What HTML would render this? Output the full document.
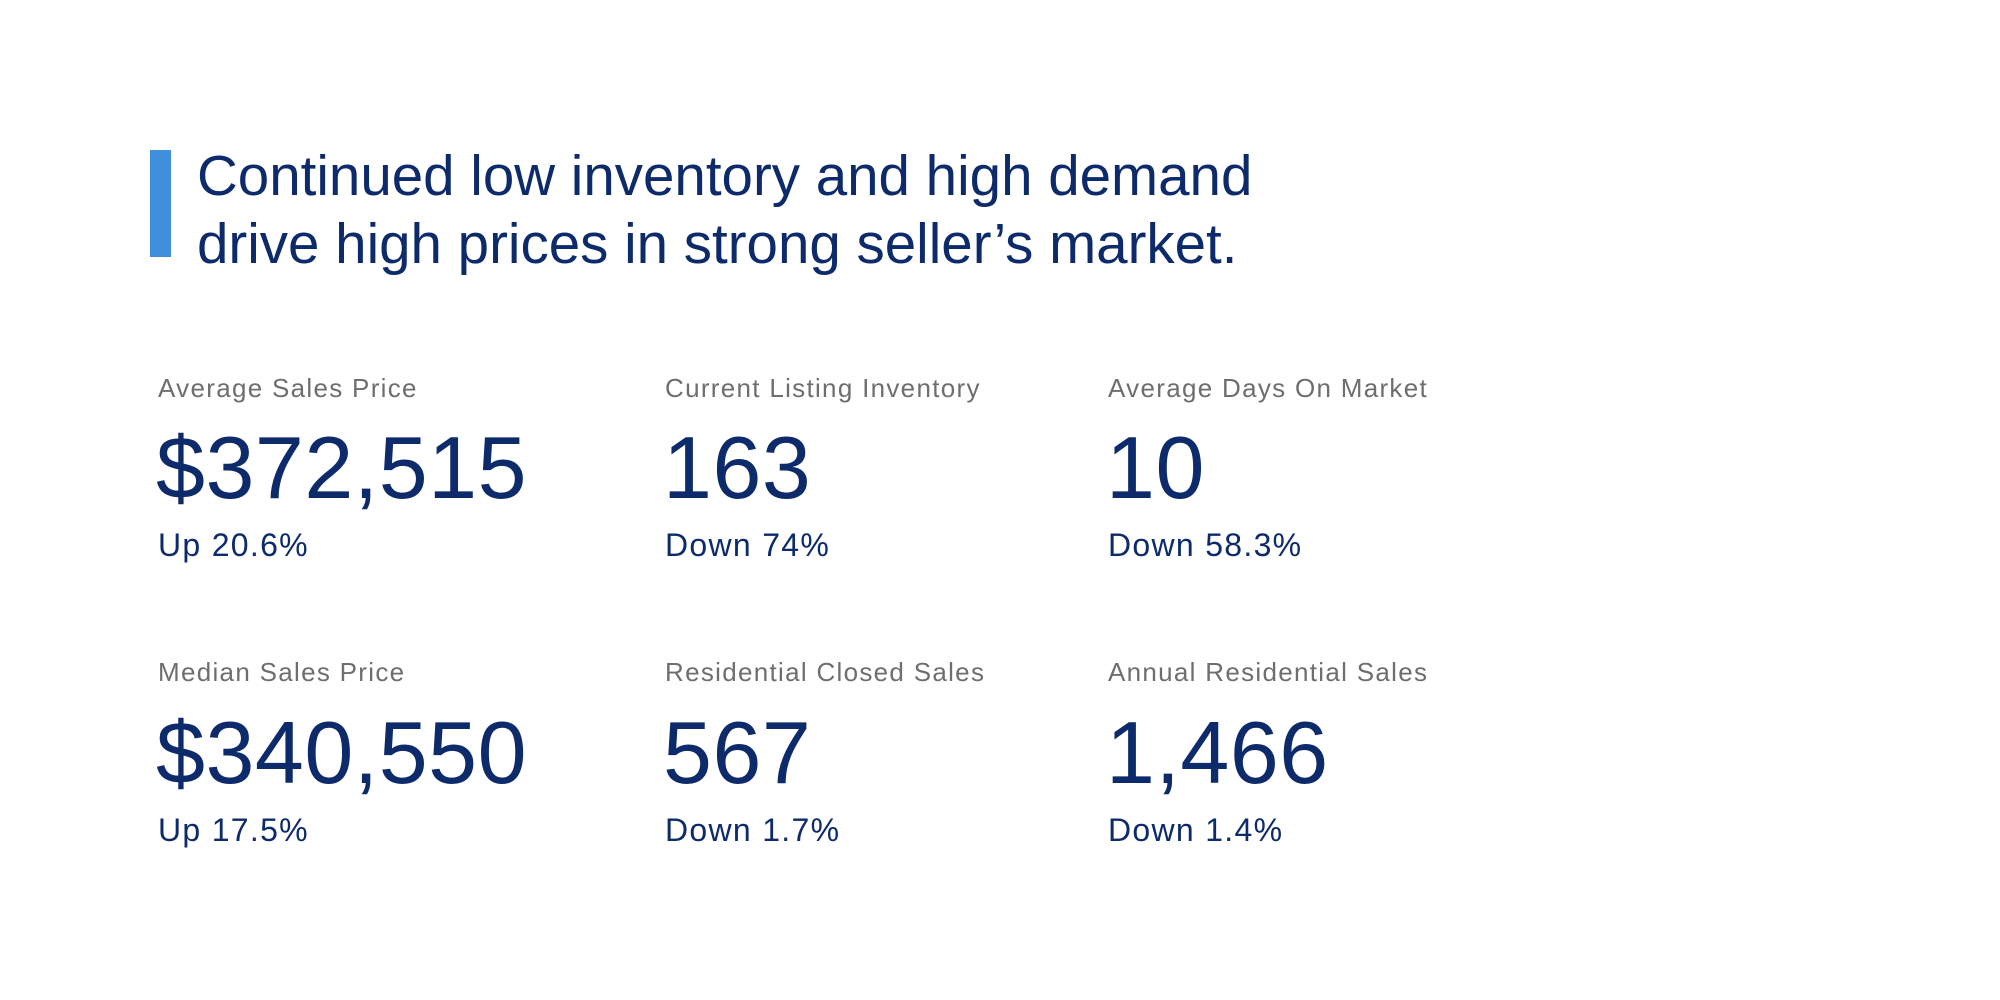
<!DOCTYPE html>
<html><head><meta charset="utf-8"><style>
html,body{margin:0;padding:0;background:#fff;}
body{width:2000px;height:1000px;position:relative;overflow:hidden;font-family:"Liberation Sans",Arial,sans-serif;}
.a{position:absolute;line-height:1;white-space:nowrap;}
.t{font-size:56.5px;color:#0d2a6b;}
.l{font-size:26px;color:#6e6e6e;letter-spacing:1.3px;}
.b{font-size:88px;color:#0d2a6b;letter-spacing:0.5px;}
.s{font-size:32px;color:#0d2a6b;letter-spacing:1.3px;}
</style></head><body>
<div style="position:absolute;left:150px;top:150px;width:21px;height:107px;background:#3f8fdc"></div>
<div class="a t" style="left:197px;top:148px">Continued low inventory and high demand</div>
<div class="a t" style="left:197px;top:216px">drive high prices in strong seller’s market.</div>

<div class="a l" style="left:158px;top:375px">Average Sales Price</div>
<div class="a b" style="left:156px;top:424px">$372,515</div>
<div class="a s" style="left:158px;top:529px">Up 20.6%</div>

<div class="a l" style="left:665px;top:375px">Current Listing Inventory</div>
<div class="a b" style="left:663px;top:424px">163</div>
<div class="a s" style="left:665px;top:529px">Down 74%</div>

<div class="a l" style="left:1108px;top:375px">Average Days On Market</div>
<div class="a b" style="left:1106px;top:424px">10</div>
<div class="a s" style="left:1108px;top:529px">Down 58.3%</div>

<div class="a l" style="left:158px;top:659px">Median Sales Price</div>
<div class="a b" style="left:156px;top:709px">$340,550</div>
<div class="a s" style="left:158px;top:814px">Up 17.5%</div>

<div class="a l" style="left:665px;top:659px">Residential Closed Sales</div>
<div class="a b" style="left:663px;top:709px">567</div>
<div class="a s" style="left:665px;top:814px">Down 1.7%</div>

<div class="a l" style="left:1108px;top:659px">Annual Residential Sales</div>
<div class="a b" style="left:1106px;top:709px">1,466</div>
<div class="a s" style="left:1108px;top:814px">Down 1.4%</div>
</body></html>
